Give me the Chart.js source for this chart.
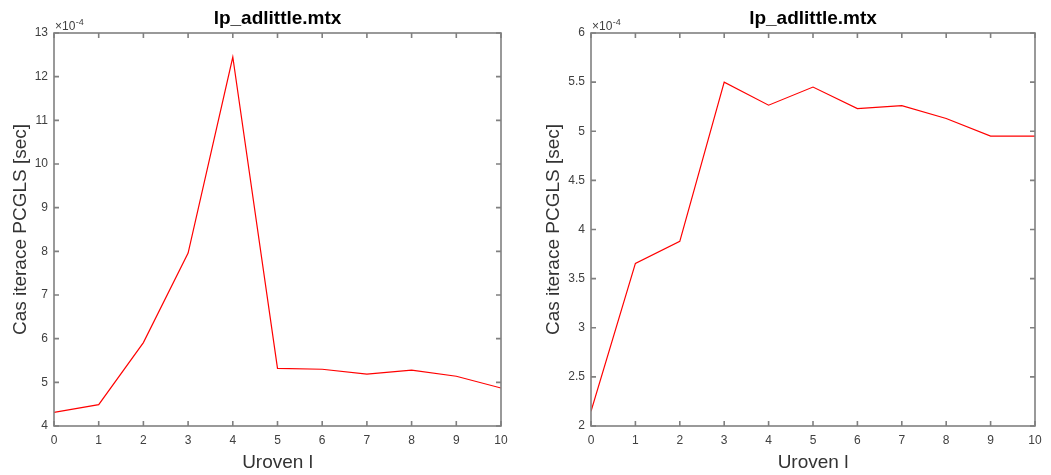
<!DOCTYPE html>
<html>
<head>
<meta charset="utf-8">
<script src="https://cdn.jsdelivr.net/npm/chart.js@4/dist/chart.umd.min.js"></script>
<style>
body { margin: 0; background: #fff; }
.panel { position: absolute; top: 0; }
</style>
</head>
<body>
<canvas id="leftChart" class="panel" width="525" height="475" style="left:0px"></canvas>
<canvas id="rightChart" class="panel" width="526" height="475" style="left:525px"></canvas>
<script>
var TITLE = "lp_adlittle.mtx";
var X_LABEL = "Uroven l";
var Y_LABEL = "Cas iterace PCGLS [sec]";
var EXPONENT = "-4"; // times below are in units of 1e-4 sec

var levels = [0, 1, 2, 3, 4, 5, 6, 7, 8, 9, 10];
var leftTimes = [4.31, 4.49, 5.91, 7.96, 12.45, 5.32, 5.30, 5.19, 5.28, 5.14, 4.87];
var rightTimes = [2.15, 3.655, 3.88, 5.50, 5.265, 5.45, 5.23, 5.26, 5.13, 4.95, 4.95];

var leftYTicks = [4, 13, 1];    // min, max, step
var rightYTicks = [2, 6, 0.5];

var FONT = "'Liberation Sans', Arial, Helvetica, sans-serif";
var TEXT_COLOR = "#404040";
var BOX_COLOR = "#808080";

Chart.defaults.font.family = FONT;

// matlab style box with ticks pointing inwards + the x10^-4 multiplier
var matlabBox = {
  id: "matlabBox",
  afterDraw: function(chart) {
    var ctx = chart.ctx;
    var a = chart.chartArea;
    var xs = chart.scales.x;
    var ys = chart.scales.y;
    var tl = 5;
    ctx.save();
    ctx.strokeStyle = BOX_COLOR;
    ctx.lineWidth = 1.6;
    ctx.beginPath();
    xs.ticks.forEach(function(t) {
      var px = xs.getPixelForValue(t.value);
      ctx.moveTo(px, a.bottom);
      ctx.lineTo(px, a.bottom - tl);
      ctx.moveTo(px, a.top);
      ctx.lineTo(px, a.top + tl);
    });
    ys.ticks.forEach(function(t) {
      var py = ys.getPixelForValue(t.value);
      ctx.moveTo(a.left, py);
      ctx.lineTo(a.left + tl, py);
      ctx.moveTo(a.right, py);
      ctx.lineTo(a.right - tl, py);
    });
    ctx.stroke();
    ctx.strokeRect(a.left, a.top, a.right - a.left, a.bottom - a.top);

    ctx.fillStyle = TEXT_COLOR;
    ctx.textBaseline = "alphabetic";
    ctx.textAlign = "left";
    ctx.font = "12px " + FONT;
    ctx.fillText("\u00d710", a.left + 1, a.top - 3);
    var w = ctx.measureText("\u00d710").width;
    ctx.font = "9px " + FONT;
    ctx.fillText(EXPONENT, a.left + 1 + w + 0.5, a.top - 8);
    ctx.restore();
  }
};

function makeChart(id, times, yTicks, yAxisWidth, rightPad, yTitlePad) {
  var points = levels.map(function(l, i) {
    return {x: l, y: times[i]};
  });
  return new Chart(document.getElementById(id), {
    type: "line",
    data: {
      datasets: [{
        data: points,
        borderColor: "#ff0000",
        borderWidth: 1.2,
        pointRadius: 0,
        tension: 0,
        fill: false
      }]
    },
    options: {
      responsive: false,
      animation: false,
      layout: {padding: {left: 0, top: 0, right: rightPad, bottom: 0}},
      plugins: {
        legend: {display: false},
        tooltip: {enabled: false},
        title: {
          display: true,
          text: TITLE,
          fullSize: false,
          color: "#000",
          font: {size: 19, weight: "bold"},
          padding: {top: 7.6, bottom: 2.6}
        }
      },
      scales: {
        x: {
          type: "linear",
          min: levels[0],
          max: levels[levels.length - 1],
          grid: {display: false, drawTicks: false},
          border: {display: false},
          ticks: {stepSize: 1, color: TEXT_COLOR, font: {size: 12}, padding: 7, maxRotation: 0},
          title: {display: true, text: X_LABEL, color: "#333", font: {size: 19}, padding: {top: 0, bottom: 1}},
          afterFit: function(s) { s.height = 49; }
        },
        y: {
          type: "linear",
          min: yTicks[0],
          max: yTicks[1],
          grid: {display: false, drawTicks: false},
          border: {display: false},
          ticks: {
            stepSize: yTicks[2],
            color: TEXT_COLOR,
            font: {size: 12},
            padding: 6,
            callback: function(v) { return String(v); }
          },
          title: {display: true, text: Y_LABEL, color: "#333", font: {size: 19}, padding: {top: yTitlePad, bottom: 0}},
          afterFit: function(s) { s.width = yAxisWidth; }
        }
      }
    },
    plugins: [matlabBox]
  });
}

makeChart("leftChart", leftTimes, leftYTicks, 54, 24, 9.6);
makeChart("rightChart", rightTimes, rightYTicks, 66, 16, 17.3);
</script>
</body>
</html>
